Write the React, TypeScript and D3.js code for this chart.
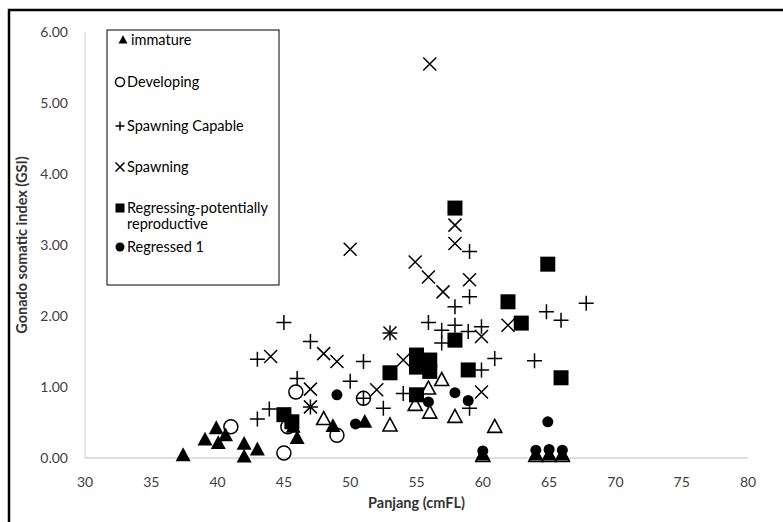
import * as d3 from "d3";

// Panjang (cmFL) vs GSI, one array per maturity stage: [length, gsi]
const immature: [number, number][] = [
  [37.4, 0.04], [39.05, 0.26], [39.9, 0.42], [40.05, 0.21], [40.6, 0.32], [42.0, 0.2],
  [42.0, 0.02], [43.0, 0.12], [45.7, 0.44], [46.0, 0.28], [48.7, 0.45], [51.1, 0.51],
  [60.0, 0.05], [64.0, 0.05], [65.0, 0.05], [66.0, 0.05],
];
const developing: [number, number][] = [
  [41.0, 0.44], [45.0, 0.07], [45.9, 0.93], [45.3, 0.44], [49.0, 0.32], [51.0, 0.84],
];
const spawningCapable: [number, number][] = [
  [45.0, 1.91], [43.0, 1.39], [46.0, 1.12], [43.0, 0.55], [43.9, 0.69], [47.0, 1.64],
  [47.0, 0.72], [50.0, 1.08], [51.0, 1.36], [51.0, 0.84], [52.5, 0.7], [53.0, 1.76],
  [54.0, 0.91], [55.9, 1.91], [56.9, 1.8], [56.9, 1.62], [57.9, 2.13], [57.9, 1.87],
  [58.9, 1.78], [59.0, 2.27], [59.0, 2.91], [59.9, 1.85], [59.9, 1.24], [59.0, 0.7],
  [60.9, 1.4], [63.9, 1.37], [64.8, 2.06], [65.9, 1.94], [67.8, 2.18],
];
const spawning: [number, number][] = [
  [56.0, 5.55], [50.0, 2.94], [54.9, 2.76], [55.9, 2.55], [57.0, 2.34], [57.9, 3.28],
  [57.9, 3.02], [59.0, 2.51], [59.9, 1.71], [61.9, 1.87], [59.9, 0.93], [53.0, 1.76],
  [54.0, 1.38], [52.0, 0.96], [49.0, 1.36], [48.0, 1.47], [44.0, 1.43], [47.0, 0.97],
  [47.0, 0.72],
];
const regressingPotential: [number, number][] = [
  [45.0, 0.61], [45.6, 0.51], [53.0, 1.2], [55.0, 1.45], [56.0, 1.38], [55.0, 1.28],
  [56.0, 1.22], [55.0, 0.89], [57.9, 3.52], [57.9, 1.66], [58.9, 1.24], [61.9, 2.2],
  [62.9, 1.9], [64.9, 2.73], [65.9, 1.13],
];
const regressed1: [number, number][] = [
  [49.0, 0.89], [50.4, 0.48], [55.9, 0.79], [57.9, 0.92], [58.9, 0.81], [64.9, 0.51],
  [60.0, 0.1], [64.0, 0.11], [65.0, 0.12], [66.0, 0.11],
];
// open triangles drawn in the chart but not listed in its legend
const openTriangle: [number, number][] = [
  [48.0, 0.55], [53.0, 0.46], [54.9, 0.75], [55.9, 0.98], [56.0, 0.64], [56.9, 1.1],
  [57.9, 0.58], [60.9, 0.44], [60.0, 0.03], [64.0, 0.03], [65.0, 0.03], [66.0, 0.03],
];

const xTicks = [30, 35, 40, 45, 50, 55, 60, 65, 70, 75, 80];
const yTicks = [0, 1, 2, 3, 4, 5, 6];

const legendLabels = [
  ["immature"],
  ["Developing"],
  ["Spawning Capable"],
  ["Spawning"],
  ["Regressing-potentially", "reproductive"],
  ["Regressed 1"],
];

const font = "Lato, 'Open Sans', sans-serif";

function Marker({ kind, x, y, s }: { kind: string; x: number; y: number; s: number }) {
  const h = s / 2;
  if (kind === "tri" || kind === "openTri") {
    const pts = `${x},${y - h * 1.05} ${x - h},${y + h * 0.8} ${x + h},${y + h * 0.8}`;
    return kind === "tri" ? (
      <polygon points={pts} fill="#000" />
    ) : (
      <polygon points={pts} fill="#fff" stroke="#000" strokeWidth={1.6} />
    );
  }
  if (kind === "circle") return <circle cx={x} cy={y} r={h} fill="none" stroke="#000" strokeWidth={1.5} />;
  if (kind === "dot") return <circle cx={x} cy={y} r={h} fill="#000" />;
  if (kind === "square") return <rect x={x - h} y={y - h} width={s} height={s} fill="#000" />;
  if (kind === "plus")
    return (
      <path d={`M${x - h},${y}H${x + h}M${x},${y - h}V${y + h}`} stroke="#000" strokeWidth={1.5} />
    );
  return (
    <path
      d={`M${x - h},${y - h}L${x + h},${y + h}M${x - h},${y + h}L${x + h},${y - h}`}
      stroke="#000"
      strokeWidth={1.5}
    />
  );
}

export default function App() {
  const x = d3.scaleLinear().domain([30, 80]).range([85, 748]);
  const y = d3.scaleLinear().domain([0, 6]).range([458, 32]);
  const fmt = d3.format(".2f");

  const series = [
    { data: openTriangle, kind: "openTri", s: 14 },
    { data: immature, kind: "tri", s: 15 },
    { data: developing, kind: "circle", s: 14 },
    { data: spawningCapable, kind: "plus", s: 15 },
    { data: spawning, kind: "x", s: 13 },
    { data: regressingPotential, kind: "square", s: 15 },
    { data: regressed1, kind: "dot", s: 11 },
  ];
  const legendKinds = ["tri", "circle", "plus", "x", "square", "dot"];
  const legendY = [40, 82, 126, 167, 208, 247];

  return (
    <svg width={783} height={522} style={{ position: "absolute", left: 0, top: 0, background: "#fff" }}>
      <rect x={9} y={10} width={790} height={530} fill="#fff" stroke="#000" strokeWidth={2.5} />

      {/* axes */}
      <line x1={x(30)} x2={x(30)} y1={y(6)} y2={y(0)} stroke="#d0d0d0" strokeWidth={1} />
      <line x1={x(30)} x2={x(80)} y1={y(0)} y2={y(0)} stroke="#bfbfbf" strokeWidth={1.2} />
      {yTicks.map((t) => (
        <text key={t} x={68} y={y(t)} dy="0.35em" textAnchor="end" fontSize={14} fill="#404040" fontFamily={font}>
          {fmt(t)}
        </text>
      ))}
      {xTicks.map((t) => (
        <text key={t} x={x(t)} y={482} dy="0.35em" textAnchor="middle" fontSize={14} fill="#404040" fontFamily={font}>
          {t}
        </text>
      ))}
      <text x={(x(30) + x(80)) / 2} y={503} dy="0.35em" textAnchor="middle" fontSize={14.5} fontWeight="bold" fill="#333" fontFamily={font}>
        Panjang (cmFL)
      </text>
      <text
        transform={`translate(22,${(y(0) + y(6)) / 2}) rotate(-90)`}
        dy="0.35em"
        textAnchor="middle"
        fontSize={14.5}
        fontWeight="bold"
        fill="#333"
        fontFamily={font}
      >
        Gonado somatic index (GSI)
      </text>

      {/* points */}
      {series.map((sr, i) => (
        <g key={i}>
          {sr.data.map((d, j) => (
            <Marker key={j} kind={sr.kind} x={x(d[0])} y={y(d[1])} s={sr.s} />
          ))}
        </g>
      ))}

      {/* legend */}
      <rect x={107} y={30} width={172} height={255} fill="#fff" stroke="#000" strokeWidth={1} />
      {legendLabels.map((lines, i) => (
        <g key={i}>
          <Marker kind={legendKinds[i]} x={i === 0 ? 123 : 120} y={legendY[i]} s={9} />
          {lines.map((ln, k) => (
            <text
              key={k}
              x={i === 0 ? 131 : 127}
              y={legendY[i] + k * 16}
              dy="0.35em"
              fontSize={14.5}
              fill="#000"
              fontFamily={font}
            >
              {ln}
            </text>
          ))}
        </g>
      ))}
    </svg>
  );
}
